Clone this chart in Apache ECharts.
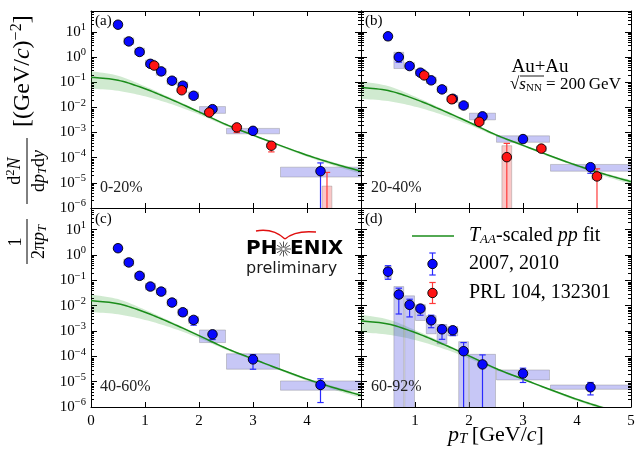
<!DOCTYPE html>
<html>
<head>
<meta charset="utf-8">
<script src="https://cdn.jsdelivr.net/npm/echarts@6/dist/echarts.min.js"></script>
<style>
html, body { margin: 0; padding: 0; background: #fff; }
#chart { width: 635px; height: 453px; }
</style>
</head>
<body>
<div id="chart"></div>
<script>
// ---- pT bins (GeV/c) ----
const bluePt    = [0.5, 0.7, 0.9, 1.1, 1.3, 1.5, 1.7, 1.9, 2.25, 3.0, 4.25];
const blueBinLo = [0.43, 0.6, 0.8, 1.0, 1.2, 1.4, 1.6, 1.8, 2.0, 2.5, 3.5];
const blueBinHi = [0.57, 0.8, 1.0, 1.2, 1.4, 1.6, 1.8, 2.0, 2.5, 3.5, 5.0];
const redPt     = [1.17, 1.68, 2.19, 2.7, 3.34, 4.37];
const redBinLo  = [1.07, 1.58, 2.09, 2.6, 3.24, 4.27];
const redBinHi  = [1.27, 1.78, 2.29, 2.8, 3.44, 4.47];
const fitPt     = [0, 0.5, 1, 1.5, 2, 2.5, 3, 3.5, 4, 4.5, 5];

// ---- (a) 0-20% ----
const fitA    = [0.158, 0.120, 0.055, 0.020, 0.0066, 0.00209, 7.9e-4, 3.1e-4, 1.26e-4, 5.75e-5, 2.9e-5];
const bandHiA = [0.275, 0.182, 0.069, 0.0229, 0.00724, 0.00224, 8.5e-4, 3.3e-4, 1.38e-4, 6.5e-5, 3.3e-5];
const bandLoA = [0.056, 0.0457, 0.0275, 0.0132, 0.00525, 0.00182, 7.2e-4, 2.75e-4, 1.1e-4, 4.8e-5, 2.3e-5];
const blueA       = [19.4, 4.2, 1.6, 0.54, 0.27, 0.115, 0.073, 0.029, 0.0085, 0.00117, 2.9e-5];
const blueSysLoA  = [14.5, 3.2, 1.23, 0.42, 0.19, 0.083, 0.056, 0.022, 0.0058, 8.9e-4, 1.7e-5];
const blueSysHiA  = [26, 5.8, 2.25, 0.76, 0.355, 0.15, 0.102, 0.041, 0.0108, 1.46e-3, 4.2e-5];
const blueStatLoA = [null, null, null, null, null, null, null, null, null, null, 1e-8];
const blueStatHiA = [null, null, null, null, null, null, null, null, null, null, 6.2e-5];
const redA        = [0.46, 0.048, 0.0063, 0.0016, 3.0e-4, 4e-7];
const redSysLoA   = [0.38, 0.040, 0.0052, 0.00135, 2.5e-4, 1e-8];
const redSysHiA   = [0.56, 0.058, 0.0076, 0.0019, 3.6e-4, 7.4e-6];
const redStatLoA  = [null, null, null, 1.0e-3, 1.7e-4, 1e-8];
const redStatHiA  = [null, null, null, 2.0e-3, 4.0e-4, 2.6e-5];

// ---- (b) 20-40% ----
const fitB    = [0.0617, 0.0468, 0.0214, 0.00776, 0.00257, 8.1e-4, 3.1e-4, 1.2e-4, 4.9e-5, 2.24e-5, 1.12e-5];
const bandHiB = [0.107, 0.0708, 0.0269, 0.0089, 0.00282, 8.7e-4, 3.3e-4, 1.29e-4, 5.4e-5, 2.5e-5, 1.29e-5];
const bandLoB = [0.0219, 0.0178, 0.0107, 0.0051, 0.00204, 7.1e-4, 2.8e-4, 1.07e-4, 4.3e-5, 1.86e-5, 8.9e-6];
const blueB       = [6.7, 1.0, 0.44, 0.24, 0.119, 0.052, 0.022, 0.0119, 0.0044, 5.5e-4, 4.2e-5];
const blueSysLoB  = [4.5, 0.35, 0.33, 0.18, 0.089, 0.039, 0.016, 0.0089, 0.0032, 4.1e-4, 2.9e-5];
const blueSysHiB  = [9.0, 1.55, 0.6, 0.32, 0.16, 0.07, 0.03, 0.016, 0.0059, 7.4e-4, 5.4e-5];
const blueStatLoB = [null, 0.63, null, null, null, null, null, null, null, null, 2.4e-5];
const blueStatHiB = [null, 1.26, null, null, null, null, null, null, null, null, 5.5e-5];
const redB        = [0.187, 0.021, 0.00267, 1.05e-4, 2.3e-4, 1.8e-5];
const redSysLoB   = [0.15, 0.017, 0.0021, 1e-8, 1.8e-4, 1.35e-5];
const redSysHiB   = [0.24, 0.027, 0.0034, 3.0e-4, 2.9e-4, 2.4e-5];
const redStatLoB  = [null, null, null, 1e-8, null, 1e-8];
const redStatHiB  = [null, null, null, 3.7e-4, null, 3.6e-5];

// ---- (c) 40-60% ----
const fitC    = [0.0158, 0.0120, 0.0055, 0.0020, 6.6e-4, 2.09e-4, 7.9e-5, 3.1e-5, 1.26e-5, 5.75e-6, 2.9e-6];
const bandHiC = [0.0275, 0.0182, 0.0069, 0.00229, 7.2e-4, 2.24e-4, 8.5e-5, 3.3e-5, 1.38e-5, 6.5e-6, 3.3e-6];
const bandLoC = [0.0056, 0.00457, 0.00275, 0.00132, 5.25e-4, 1.82e-4, 7.2e-5, 2.75e-5, 1.1e-5, 4.8e-6, 2.3e-6];
const blueC       = [1.86, 0.51, 0.151, 0.057, 0.036, 0.0133, 0.0055, 0.00275, 7.4e-4, 7.6e-5, 7.4e-6];
const blueSysLoC  = [1.3, 0.38, 0.11, 0.042, 0.027, 0.0099, 0.0041, 0.002, 3.5e-4, 3.1e-5, 4.6e-6];
const blueSysHiC  = [2.6, 0.69, 0.2, 0.077, 0.049, 0.018, 0.0074, 0.0037, 1.1e-3, 1.26e-4, 1.07e-5];
const blueStatLoC = [null, null, null, null, null, null, 0.0040, 0.0017, 4.6e-4, 3.1e-5, 1.5e-6];
const blueStatHiC = [null, null, null, null, null, null, 0.0068, 0.0036, 1.0e-3, 1.17e-4, 1.3e-5];

// ---- (d) 60-92% ----
const fitD    = [0.00251, 0.0019, 8.7e-4, 3.16e-4, 1.05e-4, 3.3e-5, 1.26e-5, 4.9e-6, 2.0e-6, 9.1e-7, 4.6e-7];
const bandHiD = [0.00437, 0.00288, 0.0011, 3.6e-4, 1.15e-4, 3.55e-5, 1.35e-5, 5.25e-6, 2.2e-6, 1.02e-6, 5.2e-7];
const bandLoD = [8.9e-4, 7.2e-4, 4.4e-4, 2.09e-4, 8.3e-5, 2.9e-5, 1.15e-5, 4.4e-6, 1.74e-6, 7.6e-7, 3.6e-7];
const blueD       = [0.22, 0.0275, 0.0108, 0.0077, 0.00265, 0.00117, 0.00107, 1.6e-4, 4.8e-5, 2.1e-5, 6e-6];
const blueSysLoD  = [0.12, 1e-8, 1e-8, 0.0026, 7.8e-4, 3.1e-4, 6.5e-4, 1e-8, 1e-8, 1.17e-5, 5.0e-6];
const blueSysHiD  = [0.35, 0.057, 0.0245, 0.011, 0.004, 0.0018, 0.0015, 3.8e-4, 1.2e-4, 2.9e-5, 7.4e-6];
const blueStatLoD = [0.11, 0.0047, 0.0036, 0.0042, 0.00135, 4.7e-4, 6.6e-4, 1e-8, 1e-8, 9.3e-6, 3e-6];
const blueStatHiD = [0.38, 0.049, 0.018, 0.0098, 0.0042, 0.00168, 0.0014, 3.5e-4, 1.14e-4, 3.4e-5, 9.3e-6];

// ---- axis ticks ----
const xTicks = [0, 1, 2, 3, 4, 5];
const yMin = 1e-6;
const yMaxTop = 68, yMaxBottom = 72;

// ---- styling ----
const SERIF = '"Liberation Serif", "DejaVu Serif", serif';
const SANS = '"DejaVu Sans", "Liberation Sans", sans-serif';
const BLUE = '#0808ff', RED = '#ff1414';
const BLUE_ERR = '#2a2aff', RED_ERR = '#ff3a3a';
const BLUE_BOX = 'rgba(70, 70, 225, 0.30)', RED_BOX = 'rgba(240, 70, 70, 0.30)';
const BOX_EDGE = 'rgba(120, 120, 120, 0.35)';
const BAND = 'rgba(40, 160, 40, 0.22)', FIT = '#1a8c1a';

const panels = [
  { fit: fitA, bandLo: bandLoA, bandHi: bandHiA, blue: blueA, bSysLo: blueSysLoA, bSysHi: blueSysHiA, bStatLo: blueStatLoA, bStatHi: blueStatHiA,
    red: redA, rSysLo: redSysLoA, rSysHi: redSysHiA, rStatLo: redStatLoA, rStatHi: redStatHiA },
  { fit: fitB, bandLo: bandLoB, bandHi: bandHiB, blue: blueB, bSysLo: blueSysLoB, bSysHi: blueSysHiB, bStatLo: blueStatLoB, bStatHi: blueStatHiB,
    red: redB, rSysLo: redSysLoB, rSysHi: redSysHiB, rStatLo: redStatLoB, rStatHi: redStatHiB },
  { fit: fitC, bandLo: bandLoC, bandHi: bandHiC, blue: blueC, bSysLo: blueSysLoC, bSysHi: blueSysHiC, bStatLo: blueStatLoC, bStatHi: blueStatHiC, red: null },
  { fit: fitD, bandLo: bandLoD, bandHi: bandHiD, blue: blueD, bSysLo: blueSysLoD, bSysHi: blueSysHiD, bStatLo: blueStatLoD, bStatHi: blueStatHiD, red: null }
];

const grids = [
  { left: 91,  top: 11,  width: 270, height: 197 },
  { left: 361, top: 11,  width: 270, height: 197 },
  { left: 91,  top: 208, width: 270, height: 199 },
  { left: 361, top: 208, width: 270, height: 199 }
].map(g => Object.assign(g, { containLabel: false, outerBoundsMode: 'none', show: false }));

// Catmull-Rom smoothing of pixel points, used for the fit curve and its band
function catmull(pts, steps) {
  const out = [];
  const n = pts.length;
  for (let i = 0; i < n - 1; i++) {
    const p0 = pts[Math.max(i - 1, 0)], p1 = pts[i], p2 = pts[i + 1], p3 = pts[Math.min(i + 2, n - 1)];
    for (let s = 0; s < steps; s++) {
      const t = s / steps, t2 = t * t, t3 = t2 * t;
      const f = (a, b, c, d) => 0.5 * (2 * b + (-a + c) * t + (2 * a - 5 * b + 4 * c - d) * t2 + (-a + 3 * b - 3 * c + d) * t3);
      out.push([f(p0[0], p1[0], p2[0], p3[0]), f(p0[1], p1[1], p2[1], p3[1])]);
    }
  }
  out.push(pts[n - 1]);
  return out;
}

function bandRenderer(lo, hi) {
  return function (params, api) {
    const up = catmull(fitPt.map((x, i) => api.coord([x, hi[i]])), 10);
    const dn = catmull(fitPt.map((x, i) => api.coord([x, lo[i]])), 10).reverse();
    return { type: 'polygon', shape: { points: up.concat(dn) }, style: { fill: BAND } };
  };
}

function fitRenderer(vals) {
  return function (params, api) {
    const pts = catmull(fitPt.map((x, i) => api.coord([x, vals[i]])), 10);
    return { type: 'polyline', shape: { points: pts }, style: { stroke: FIT, lineWidth: 1.5, fill: null } };
  };
}

function boxRenderer(fill) {
  return function (params, api) {
    const a = api.coord([api.value(0), api.value(3)]);
    const b = api.coord([api.value(1), api.value(2)]);
    return {
      type: 'rect',
      shape: { x: a[0] + 0.5, y: a[1], width: b[0] - a[0] - 1, height: b[1] - a[1] },
      style: { fill: fill, stroke: BOX_EDGE, lineWidth: 1 }
    };
  };
}

function errRenderer(color) {
  return function (params, api) {
    const x = api.value(0);
    const lo = api.coord([x, api.value(1)]);
    const hi = api.coord([x, api.value(2)]);
    const c = 3.2;
    const ls = { stroke: color, lineWidth: 1.2 };
    return {
      type: 'group',
      children: [
        { type: 'line', shape: { x1: lo[0], y1: lo[1], x2: hi[0], y2: hi[1] }, style: ls },
        { type: 'line', shape: { x1: hi[0] - c, y1: hi[1], x2: hi[0] + c, y2: hi[1] }, style: ls },
        { type: 'line', shape: { x1: lo[0] - c, y1: lo[1], x2: lo[0] + c, y2: lo[1] }, style: ls }
      ]
    };
  };
}

// minor log ticks (2..9 per decade) on both vertical edges of a panel
function minorTickRenderer(params, api) {
  const v = api.value(1);
  const l = api.coord([0, v]);
  const r = api.coord([5, v]);
  const ls = { stroke: '#000', lineWidth: 1 };
  return {
    type: 'group',
    children: [
      { type: 'line', shape: { x1: l[0], y1: Math.round(l[1]) + 0.5, x2: l[0] + 3, y2: Math.round(l[1]) + 0.5 }, style: ls },
      { type: 'line', shape: { x1: r[0] - 3, y1: Math.round(r[1]) + 0.5, x2: r[0], y2: Math.round(r[1]) + 0.5 }, style: ls }
    ]
  };
}

function yLabel(v) {
  const e = Math.log10(v);
  const r = Math.round(e);
  if (Math.abs(e - r) > 1e-4) return '';
  return '{b|10}{s|' + (r < 0 ? '\u2212' + (-r) : String(r)) + '}';
}

const xAxes = [], yAxes = [], series = [];

grids.forEach((gr, g) => {
  const bottomRow = g >= 2;
  const leftCol = g % 2 === 0;
  const yMax = bottomRow ? yMaxBottom : yMaxTop;
  const tickStyle = { color: '#000', width: 1 };
  const lineStyle = { color: '#000', width: 1 };

  xAxes.push({
    gridIndex: g, type: 'value', position: 'bottom', min: xTicks[0], max: xTicks[xTicks.length - 1], interval: 1,
    axisLine: { show: true, onZero: false, lineStyle: lineStyle },
    axisTick: { show: true, inside: true, length: 5, lineStyle: tickStyle },
    axisLabel: {
      show: bottomRow, margin: 7, fontSize: 15, fontFamily: SERIF, color: '#000',
      showMinLabel: leftCol, showMaxLabel: !leftCol
    },
    splitLine: { show: false }
  });
  xAxes.push({
    gridIndex: g, type: 'value', position: 'top', min: xTicks[0], max: xTicks[xTicks.length - 1], interval: 1,
    axisLine: { show: true, onZero: false, lineStyle: lineStyle },
    axisTick: { show: true, inside: true, length: 5, lineStyle: tickStyle },
    axisLabel: { show: false }, splitLine: { show: false }
  });
  const yBase = {
    gridIndex: g, type: 'log', logBase: 10, min: yMin, max: yMax, splitNumber: 8,
    axisLine: { show: true, onZero: false, lineStyle: lineStyle },
    axisTick: { show: true, inside: true, length: 6, lineStyle: tickStyle },
    splitLine: { show: false }, minorTick: { show: false }
  };
  yAxes.push(Object.assign({}, yBase, {
    position: 'left',
    axisLabel: {
      show: leftCol, margin: 5, formatter: yLabel, color: '#000',
      rich: {
        b: { fontSize: 15, fontFamily: SERIF, color: '#000' },
        s: { fontSize: 10.5, fontFamily: SERIF, color: '#000', padding: [0, 0, 9, 0] }
      }
    }
  }));
  yAxes.push(Object.assign({}, yBase, { position: 'right', axisLabel: { show: false } }));

  const p = panels[g];
  const xi = 2 * g, yi = 2 * g;

  series.push({
    type: 'custom', name: 'band', xAxisIndex: xi, yAxisIndex: yi, z: 1, clip: true, silent: true,
    data: [[fitPt[0], p.fit[0]]], encode: { x: 0, y: 1 },
    renderItem: bandRenderer(p.bandLo, p.bandHi)
  });
  series.push({
    type: 'custom', name: 'sys2007', xAxisIndex: xi, yAxisIndex: yi, z: 2, clip: true, silent: true,
    data: bluePt.map((x, i) => [blueBinLo[i], blueBinHi[i], p.bSysLo[i], p.bSysHi[i]]),
    encode: { x: [0, 1], y: [2, 3] },
    renderItem: boxRenderer(BLUE_BOX)
  });
  if (p.red) {
    series.push({
      type: 'custom', name: 'sysPRL', xAxisIndex: xi, yAxisIndex: yi, z: 2, clip: true, silent: true,
      data: redPt.map((x, i) => [redBinLo[i], redBinHi[i], p.rSysLo[i], p.rSysHi[i]]),
      encode: { x: [0, 1], y: [2, 3] },
      renderItem: boxRenderer(RED_BOX)
    });
  }
  series.push({
    type: 'custom', name: 'fit', xAxisIndex: xi, yAxisIndex: yi, z: 3, clip: true, silent: true,
    data: [[fitPt[0], p.fit[0]]], encode: { x: 0, y: 1 },
    renderItem: fitRenderer(p.fit)
  });
  series.push({
    type: 'custom', name: 'stat2007', xAxisIndex: xi, yAxisIndex: yi, z: 4, clip: true, silent: true,
    data: bluePt.map((x, i) => [x, p.bStatLo[i], p.bStatHi[i]]).filter(d => d[1] != null),
    encode: { x: 0, y: [1, 2] },
    renderItem: errRenderer(BLUE_ERR)
  });
  if (p.red) {
    series.push({
      type: 'custom', name: 'statPRL', xAxisIndex: xi, yAxisIndex: yi, z: 4, clip: true, silent: true,
      data: redPt.map((x, i) => [x, p.rStatLo[i], p.rStatHi[i]]).filter(d => d[1] != null),
      encode: { x: 0, y: [1, 2] },
      renderItem: errRenderer(RED_ERR)
    });
  }
  series.push({
    type: 'scatter', name: '2007, 2010', xAxisIndex: xi, yAxisIndex: yi, z: 5, clip: true, silent: true,
    symbol: 'circle', symbolSize: 9.5,
    itemStyle: { color: BLUE, borderColor: '#000', borderWidth: 0.9, opacity: 1 },
    data: bluePt.map((x, i) => [x, p.blue[i]])
  });
  if (p.red) {
    series.push({
      type: 'scatter', name: 'PRL 104, 132301', xAxisIndex: xi, yAxisIndex: yi, z: 6, clip: true, silent: true,
      symbol: 'circle', symbolSize: 9.5,
      itemStyle: { color: RED, borderColor: '#000', borderWidth: 0.9, opacity: 1 },
      data: redPt.map((x, i) => [x, p.red[i]])
    });
  }
  const minors = [];
  for (let e = -6; e <= 1; e++) {
    for (let k = 2; k <= 9; k++) {
      const v = k * Math.pow(10, e);
      if (v < yMax) minors.push([0, v]);
    }
  }
  series.push({
    type: 'custom', name: 'minorTicks', xAxisIndex: xi, yAxisIndex: yi, z: 7, clip: true, silent: true,
    data: minors, encode: { x: 0, y: 1 }, renderItem: minorTickRenderer
  });
});

// ---- annotations ----
const graphics = [];
function txt(x, y, text, style) {
  graphics.push({
    type: 'text', x: x, y: y, z: 100, silent: true,
    style: Object.assign({ text: text, fill: '#000', fontFamily: SERIF, fontSize: 15, align: 'left', verticalAlign: 'middle' }, style || {})
  });
}
const R = (size, extra) => Object.assign({ fontSize: size, fontFamily: SERIF, fill: '#000' }, extra || {});

txt(95, 21, '(a)');
txt(365, 21, '(b)');
txt(95, 219, '(c)');
txt(365, 219, '(d)');

txt(100, 188, '0-20%', { fontSize: 16, fill: '#222' });
txt(371, 188, '20-40%', { fontSize: 16, fill: '#222' });
txt(100, 387, '40-60%', { fontSize: 16, fill: '#222' });
txt(371, 387, '60-92%', { fontSize: 16, fill: '#222' });

txt(540, 67, 'Au+Au', { fontSize: 19, align: 'center' });
txt(510, 85, '{n|\u221A}{i|s}{sub|NN}{n| = 200\u2009GeV}', {
  fontSize: 17,
  rich: { n: R(17), i: R(17, { fontStyle: 'italic' }), sub: R(11, { padding: [7, 0, 0, 0] }) }
});
graphics.push({ type: 'line', z: 100, silent: true, shape: { x1: 520, y1: 76, x2: 544, y2: 76 }, style: { stroke: '#000', lineWidth: 0.9 } });

// legend
graphics.push({ type: 'line', z: 100, silent: true, shape: { x1: 412, y1: 236, x2: 454, y2: 236 }, style: { stroke: FIT, lineWidth: 1.6 } });
txt(469, 236, '{i|T}{sub|AA}{n|-scaled }{i|pp}{n| fit}', {
  fontSize: 20,
  rich: { n: R(20), i: R(20, { fontStyle: 'italic' }), sub: R(13, { fontStyle: 'italic', padding: [8, 0, 0, 0] }) }
});
txt(469, 264, '2007, 2010', { fontSize: 20 });
txt(469, 293, 'PRL 104, 132301', { fontSize: 20 });
function legendMarker(cx, cy, y1, y2, fill, err) {
  const ls = { stroke: err, lineWidth: 1.2 };
  graphics.push({ type: 'line', z: 100, silent: true, shape: { x1: cx, y1: y1, x2: cx, y2: y2 }, style: ls });
  graphics.push({ type: 'line', z: 100, silent: true, shape: { x1: cx - 3.2, y1: y1, x2: cx + 3.2, y2: y1 }, style: ls });
  graphics.push({ type: 'line', z: 100, silent: true, shape: { x1: cx - 3.2, y1: y2, x2: cx + 3.2, y2: y2 }, style: ls });
  graphics.push({ type: 'circle', z: 101, silent: true, shape: { cx: cx, cy: cy, r: 4.7 }, style: { fill: fill, stroke: '#000', lineWidth: 0.9 } });
}
legendMarker(432.5, 264, 253, 275, BLUE, BLUE_ERR);
legendMarker(432.5, 293, 282.5, 303.5, RED, RED_ERR);

// PHENIX preliminary stamp
txt(246, 249, 'PH', { fontFamily: SANS, fontWeight: 'bold', fontSize: 20 });
txt(290, 249, 'ENIX', { fontFamily: SANS, fontWeight: 'bold', fontSize: 20 });
txt(246, 269, 'preliminary', { fontFamily: SANS, fontSize: 16, fill: '#1a1a1a' });
for (let k = 0; k < 12; k++) {
  const a = k * Math.PI / 6;
  graphics.push({
    type: 'line', z: 100, silent: true,
    shape: { x1: 283.5 + 1.5 * Math.cos(a), y1: 249 + 1.5 * Math.sin(a), x2: 283.5 + 7.5 * Math.cos(a), y2: 249 + 7.5 * Math.sin(a) },
    style: { stroke: '#555', lineWidth: 1 }
  });
}
graphics.push({ type: 'bezierCurve', z: 100, silent: true, shape: { x1: 256, y1: 231, cpx1: 273, cpy1: 228, x2: 285, y2: 239 }, style: { stroke: '#e01010', lineWidth: 1.5, fill: null } });
graphics.push({ type: 'bezierCurve', z: 100, silent: true, shape: { x1: 285, y1: 239, cpx1: 295, cpy1: 230, x2: 316, y2: 232 }, style: { stroke: '#e01010', lineWidth: 1.5, fill: null } });

// x-axis title
txt(496, 435, '{i|p}{sub|T}{n|\u2009[GeV/}{i|c}{n|]}', {
  fontSize: 22, align: 'center',
  rich: { n: R(22), i: R(22, { fontStyle: 'italic' }), sub: R(15, { fontStyle: 'italic', padding: [9, 0, 0, 0] }) }
});

// y-axis title, drawn rotated (reads bottom to top)
const T = (x, y, text, style) => ({
  type: 'text', x: x, y: y, silent: true,
  style: Object.assign({ text: text, fill: '#000', fontFamily: SERIF, fontSize: 18, align: 'center', verticalAlign: 'middle' }, style || {})
});
graphics.push({
  type: 'group', x: 27, y: 266, rotation: Math.PI / 2, z: 100, silent: true,
  children: [
    T(24, -11, '1', { fontSize: 18 }),
    { type: 'line', shape: { x1: 2, y1: 0, x2: 47, y2: 0 }, style: { stroke: '#000', lineWidth: 1 } },
    T(24, 12, '{n|2\u03C0}{i|p}{sub|T}', { rich: { n: R(18), i: R(18, { fontStyle: 'italic' }), sub: R(12.5, { fontStyle: 'italic', padding: [7, 0, 0, 0] }) } }),
    T(95, -12, '{n|d}{sup|2}{i|N}', { rich: { n: R(18), i: R(18, { fontStyle: 'italic' }), sup: R(12.5, { padding: [0, 0, 9, 0] }) } }),
    { type: 'line', shape: { x1: 62, y1: 0, x2: 128, y2: 0 }, style: { stroke: '#000', lineWidth: 1 } },
    T(95, 12, '{n|d}{i|p}{sub|T}{n|d}{i|y}', { rich: { n: R(18), i: R(18, { fontStyle: 'italic' }), sub: R(12.5, { fontStyle: 'italic', padding: [7, 0, 0, 0] }) } }),
    T(139, -4, '{n|[(GeV/}{i|c}{n|)}{sup|\u22122}{n|]}', {
      align: 'left',
      rich: { n: R(24), i: R(24, { fontStyle: 'italic' }), sup: R(16, { padding: [0, 0, 12, 0] }) }
    })
  ]
});

const chart = echarts.init(document.getElementById('chart'), null, { renderer: 'canvas' });
chart.setOption({
  backgroundColor: '#fff',
  animation: false,
  grid: grids,
  xAxis: xAxes,
  yAxis: yAxes,
  series: series,
  graphic: graphics
});
</script>
</body>
</html>
